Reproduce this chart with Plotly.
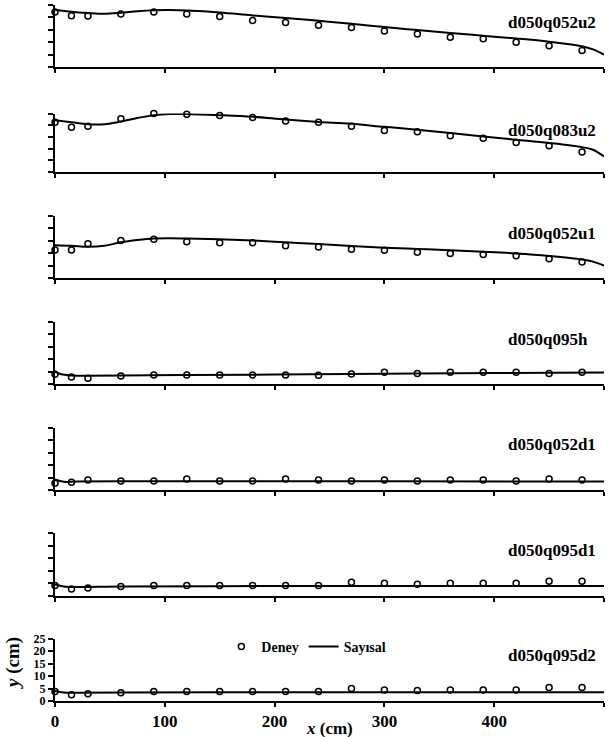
import plotly.graph_objects as go

# ---- data -------------------------------------------------------------
case_names = ["d050q052u2", "d050q083u2", "d050q052u1", "d050q095h",
              "d050q052d1", "d050q095d1", "d050q095d2"]

# measured points (Deney)
x_exp = [0, 15, 30, 60, 90, 120, 150, 180, 210, 240, 270, 300, 330, 360, 390, 420, 450, 480]
y_exp_052u2 = [22.2, 20.7, 20.6, 21.4, 22.2, 21.4, 20.4, 18.8, 17.9, 16.8, 15.9, 14.5, 13.3, 12.0, 11.4, 10.0, 8.6, 6.7]
y_exp_083u2 = [21.3, 19.1, 19.5, 22.8, 25.0, 24.7, 24.1, 23.3, 21.8, 21.3, 19.5, 17.7, 17.2, 15.5, 14.4, 12.6, 11.2, 8.6]
y_exp_052u1 = [11.3, 11.3, 13.8, 15.1, 15.6, 14.6, 14.2, 14.2, 13.0, 12.5, 11.6, 11.2, 10.4, 9.9, 9.5, 9.0, 7.8, 6.5]
y_exp_095h = [3.9, 2.8, 2.3, 3.2, 3.6, 3.6, 3.6, 3.6, 3.6, 3.5, 4.0, 4.7, 4.2, 4.7, 4.7, 4.7, 4.2, 4.7]
y_exp_052d1 = [2.7, 3.1, 4.0, 3.6, 3.6, 4.4, 3.6, 3.6, 4.4, 4.0, 3.6, 4.0, 3.6, 4.0, 4.0, 3.6, 4.4, 4.0]
y_exp_095d1 = [4.2, 2.8, 3.2, 3.8, 4.2, 4.2, 4.2, 4.2, 4.2, 4.2, 5.5, 5.1, 4.7, 5.1, 5.1, 5.1, 5.9, 5.9]
y_exp_095d2 = [3.8, 2.5, 2.9, 3.3, 3.8, 3.8, 3.8, 3.8, 3.8, 3.8, 5.0, 4.4, 4.2, 4.4, 4.4, 4.4, 5.4, 5.4]

# numerical water surface profiles (Sayısal)
x_num_u = [0, 15, 30, 45, 60, 75, 90, 105, 120, 150, 180, 210, 240, 270, 300, 330, 360, 390, 420, 450, 480, 490, 500]
y_num_052u2 = [23.1, 22.3, 21.8, 21.5, 21.9, 22.5, 22.9, 23.0, 22.8, 22.0, 20.8, 19.8, 18.6, 17.4, 16.1, 14.9, 13.7, 12.6, 11.5, 10.2, 8.4, 7.1, 5.0]
y_num_083u2 = [22.1, 21.3, 20.4, 20.4, 21.6, 23.1, 24.3, 24.8, 24.8, 24.3, 23.6, 22.4, 21.4, 20.6, 19.3, 18.1, 16.7, 15.2, 13.8, 12.4, 10.6, 9.5, 6.6]
y_num_052u1 = [13.2, 13.0, 12.6, 13.0, 14.4, 15.3, 15.9, 16.0, 15.9, 15.6, 15.1, 14.4, 13.7, 12.9, 12.2, 11.7, 11.2, 10.6, 9.9, 8.9, 7.5, 6.6, 5.0]
x_num_h = [0, 5, 15, 30, 60, 120, 200, 300, 400, 500]
y_num_095h = [5.0, 4.0, 3.4, 3.3, 3.4, 3.6, 3.8, 4.1, 4.4, 4.6]
x_num_d = [0, 8, 20, 60, 150, 300, 500]
y_num_052d1 = [4.2, 3.3, 3.4, 3.5, 3.5, 3.5, 3.4]
y_num_095d1 = [4.6, 3.8, 3.6, 3.8, 3.9, 4.0, 4.0]
y_num_095d2 = [4.0, 3.4, 3.3, 3.4, 3.5, 3.5, 3.5]

exp_series = [y_exp_052u2, y_exp_083u2, y_exp_052u1, y_exp_095h,
              y_exp_052d1, y_exp_095d1, y_exp_095d2]
num_series = [(x_num_u, y_num_052u2), (x_num_u, y_num_083u2), (x_num_u, y_num_052u1),
              (x_num_h, y_num_095h), (x_num_d, y_num_052d1), (x_num_d, y_num_095d1),
              (x_num_d, y_num_095d2)]

x_ticks = [0, 100, 200, 300, 400, 500]
y_ticks = [0, 5, 10, 15, 20, 25]

# ---- layout geometry (pixels from the top of the page) -----------------
W, H = 615, 737
ML, MR, MT, MB = 55, 11, 5, 36
plot_h = H - MT - MB
panel_top_px = [5, 113.5, 216, 322, 427.5, 533, 638.5]
panel_bot_px = [67, 172, 278, 384, 490, 596, 701]
SERIF = "Liberation Serif, Times New Roman, serif"


def frac(py):
    return min(1.0, max(0.0, (H - MB - py) / plot_h))


fig = go.Figure()
layout = dict(
    width=W, height=H,
    margin=dict(l=ML, r=MR, t=MT, b=MB, autoexpand=False),
    paper_bgcolor="white", plot_bgcolor="white",
    font=dict(family=SERIF, color="black", weight="bold"),
    showlegend=True,
    legend=dict(orientation="h", x=0.303, xanchor="left", y=frac(647), yanchor="middle",
                font=dict(family=SERIF, size=14, color="black", weight="bold"),
                bgcolor="rgba(0,0,0,0)", itemwidth=30, tracegroupgap=0),
)
annotations = []
n = len(case_names)
for i in range(n):
    lo, hi = frac(panel_bot_px[i]), frac(panel_top_px[i])
    last = i == n - 1
    xa = "xaxis" if i == 0 else f"xaxis{i+1}"
    ya = "yaxis" if i == 0 else f"yaxis{i+1}"
    xr = "x" if i == 0 else f"x{i+1}"
    yr = "y" if i == 0 else f"y{i+1}"
    layout[xa] = dict(domain=[0, 1], anchor=yr, range=[0, 500], tickvals=x_ticks,
                      showticklabels=last, ticks="outside", ticklen=4, tickwidth=2,
                      tickcolor="black", showline=True, linewidth=2, linecolor="black",
                      showgrid=False, zeroline=False, automargin=False,
                      tickfont=dict(family=SERIF, size=17, color="black", weight="bold"))
    layout[ya] = dict(domain=[lo, hi], anchor=xr, range=[0, 25], tickvals=y_ticks,
                      showticklabels=last, ticks="outside", ticklen=5, tickwidth=1.5,
                      tickcolor="black", showline=True, linewidth=2, linecolor="black",
                      showgrid=False, zeroline=False, automargin=False,
                      tickfont=dict(family=SERIF, size=12, color="black", weight="bold"))

    fig.add_trace(go.Scatter(
        x=x_exp, y=exp_series[i], mode="markers", name="Deney",
        xaxis=xr, yaxis=yr, cliponaxis=False, showlegend=last, legendrank=1,
        marker=dict(symbol="circle-open", size=6, color="black", line=dict(width=1.5, color="black")),
    ))
    xn, yn = num_series[i]
    fig.add_trace(go.Scatter(
        x=xn, y=yn, mode="lines", name="Sayısal", line_shape="spline",
        xaxis=xr, yaxis=yr, cliponaxis=False, showlegend=last, legendrank=2,
        line=dict(color="black", width=2),
    ))

    annotations.append(dict(
        text=case_names[i], xref="paper", yref="paper",
        x=(506 - ML) / (W - ML - MR), xanchor="left",
        y=frac(panel_top_px[i] + 17), yanchor="middle", showarrow=False,
        font=dict(family=SERIF, size=17, color="black", weight="bold"),
    ))

annotations.append(dict(
    text="<i>x</i> (cm)", xref="paper", yref="paper", x=0.5, xanchor="center",
    y=(H - MB - 728) / plot_h, yanchor="middle", showarrow=False,
    font=dict(family=SERIF, size=17, color="black", weight="bold"),
))
annotations.append(dict(
    text="<i>y</i> (cm)", xref="paper", yref="paper", x=(13 - ML) / (W - ML - MR),
    xanchor="center", y=frac(663), yanchor="middle", showarrow=False,
    textangle=-90, font=dict(family=SERIF, size=19, color="black", weight="bold"),
))
layout["annotations"] = annotations
fig.update_layout(**layout)
fig.write_html("out.html")
